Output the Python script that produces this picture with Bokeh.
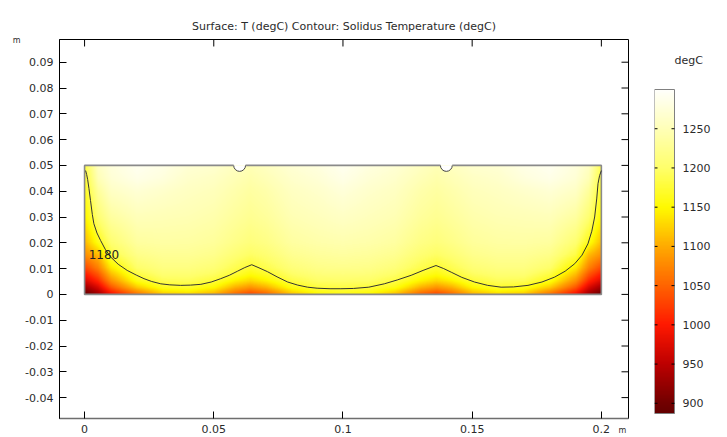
import numpy as np
from bokeh.plotting import figure
from bokeh.layouts import row
from bokeh.models import (LinearColorMapper, FixedTicker, LinearAxis, Label, Range1d)
from bokeh.embed import file_html
from bokeh.resources import INLINE
from bokeh.core.properties import value

# ---------------- data ----------------
title_text = "Surface: T (degC) Contour: Solidus Temperature (degC)"
unit_text = "m"
cbar_title = "degC"
x_ticks = [0, 0.05, 0.1, 0.15, 0.2]
x_tick_labels = ["0", "0.05", "0.1", "0.15", "0.2"]
y_ticks = [-0.04, -0.03, -0.02, -0.01, 0, 0.01, 0.02, 0.03, 0.04, 0.05,
           0.06, 0.07, 0.08, 0.09]
y_tick_labels = ["-0.04", "-0.03", "-0.02", "-0.01", "0", "0.01", "0.02",
                 "0.03", "0.04", "0.05", "0.06", "0.07", "0.08", "0.09"]
cbar_ticks = [900, 950, 1000, 1050, 1100, 1150, 1200, 1250]
cbar_tick_labels = ["900", "950", "1000", "1050", "1100", "1150", "1200", "1250"]
t_low, t_high = 887, 1300

domain_width = 0.2
domain_height = 0.05
notch_x = [0.06, 0.14]
notch_r = 0.0023

contour_level = "1180"
contour_x = [0.0004, 0.0008, 0.0012, 0.0017, 0.0023, 0.003, 0.0036, 0.0048,
             0.0062, 0.008, 0.0101, 0.013, 0.0165, 0.02, 0.023, 0.026, 0.0295,
             0.033, 0.0372, 0.041, 0.045, 0.049, 0.0527, 0.056, 0.0592, 0.062,
             0.0647, 0.0675, 0.0708, 0.0745, 0.0786, 0.0825, 0.0863, 0.09,
             0.095, 0.0992, 0.104, 0.11, 0.116, 0.121, 0.1264, 0.131, 0.136,
             0.139, 0.1419, 0.146, 0.1509, 0.156, 0.1612, 0.166, 0.1716, 0.177,
             0.1819, 0.186, 0.1897, 0.1925, 0.1948, 0.1963, 0.1974, 0.1982,
             0.1987, 0.1993, 0.2]
contour_y = [0.048, 0.0465, 0.0445, 0.041, 0.0364, 0.031, 0.0274, 0.0238,
             0.0209, 0.0175, 0.0145, 0.0117, 0.0093, 0.0075, 0.0061, 0.005,
             0.0041, 0.0037, 0.0035, 0.0036, 0.0039, 0.0048, 0.0061, 0.0074,
             0.009, 0.0104, 0.0115, 0.0103, 0.0088, 0.0068, 0.0048, 0.0036,
             0.0028, 0.0024, 0.0022, 0.0022, 0.0023, 0.0028, 0.0041, 0.0056,
             0.0074, 0.0093, 0.0112, 0.01, 0.0086, 0.0066, 0.0048, 0.0035,
             0.0028, 0.0029, 0.0035, 0.0048, 0.0067, 0.009, 0.0119, 0.0152,
             0.0196, 0.0245, 0.03, 0.037, 0.0429, 0.046, 0.048]

# temperature samples (degC) read from the surface, rows = grid_y, cols = grid_x
grid_x = [0, 0.005, 0.01, 0.02, 0.03, 0.04, 0.05, 0.058, 0.064, 0.07, 0.08,
          0.09, 0.1, 0.11, 0.12, 0.13, 0.136, 0.142, 0.15, 0.16, 0.17, 0.18,
          0.19, 0.195, 0.2]
grid_y = [0, 0.0025, 0.005, 0.0075, 0.01, 0.015, 0.02, 0.03, 0.04, 0.045, 0.05]
T_y000 = [890, 930, 990, 1060, 1120, 1130, 1105, 1055, 1030, 1050, 1115, 1150, 1160,
          1150, 1115, 1050, 1030, 1055, 1105, 1130, 1120, 1060, 990, 930, 890]
T_y0025 = [930, 970, 1040, 1120, 1165, 1172, 1150, 1105, 1085, 1105, 1160, 1179, 1183,
           1179, 1160, 1105, 1085, 1105, 1150, 1172, 1165, 1120, 1040, 970, 930]
T_y005 = [970, 1010, 1080, 1160, 1190, 1192, 1178, 1145, 1128, 1145, 1183, 1198, 1200,
          1198, 1183, 1145, 1128, 1145, 1178, 1192, 1190, 1160, 1080, 1010, 970]
T_y0075 = [1000, 1040, 1110, 1181, 1205, 1205, 1195, 1174, 1155, 1168, 1198, 1210, 1212,
           1210, 1198, 1168, 1155, 1174, 1195, 1205, 1205, 1181, 1110, 1040, 1000]
T_y010 = [1030, 1070, 1140, 1200, 1215, 1215, 1207, 1188, 1173, 1186, 1210, 1220, 1222,
          1220, 1210, 1186, 1173, 1188, 1207, 1215, 1215, 1200, 1140, 1070, 1030]
T_y015 = [1080, 1110, 1182, 1220, 1228, 1228, 1222, 1207, 1197, 1205, 1225, 1232, 1235,
          1232, 1225, 1205, 1197, 1207, 1222, 1228, 1228, 1220, 1182, 1110, 1080]
T_y020 = [1110, 1162, 1205, 1235, 1238, 1237, 1232, 1220, 1212, 1218, 1236, 1242, 1245,
          1242, 1236, 1218, 1212, 1220, 1232, 1237, 1238, 1235, 1205, 1162, 1110]
T_y030 = [1145, 1205, 1235, 1252, 1250, 1248, 1243, 1233, 1226, 1232, 1248, 1254, 1260,
          1254, 1248, 1232, 1226, 1233, 1243, 1248, 1250, 1252, 1235, 1205, 1145]
T_y040 = [1165, 1232, 1260, 1272, 1265, 1258, 1253, 1243, 1236, 1242, 1258, 1265, 1275,
          1265, 1258, 1242, 1236, 1243, 1253, 1258, 1265, 1272, 1260, 1232, 1165]
T_y045 = [1175, 1250, 1272, 1286, 1278, 1265, 1260, 1250, 1243, 1250, 1265, 1273, 1285,
          1273, 1265, 1250, 1243, 1250, 1260, 1265, 1278, 1286, 1272, 1250, 1175]
T_y050 = [1185, 1260, 1278, 1292, 1285, 1272, 1268, 1258, 1250, 1258, 1272, 1280, 1292,
          1280, 1272, 1258, 1250, 1258, 1268, 1272, 1285, 1292, 1278, 1260, 1185]
T_rows = [T_y000, T_y0025, T_y005, T_y0075, T_y010, T_y015, T_y020, T_y030,
          T_y040, T_y045, T_y050]

# colour table stops (value -> rgb), thermal light
cmap_v = [887, 900, 950, 1000, 1050, 1100, 1150, 1200, 1250, 1300]
cmap_r = [100, 115, 190, 255, 255, 255, 255, 255, 255, 255]
cmap_g = [0, 0, 0, 25, 100, 170, 250, 255, 255, 255]
cmap_b = [0, 0, 0, 0, 0, 0, 0, 105, 182, 250]

FONT = "DejaVu Sans"
TXT = "#2b2b2b"

# ---------------- layout (px) ----------------
X0, X1 = -0.0097, 0.2105
Y0, Y1 = -0.0481, 0.0988
FRAME_W, FRAME_H = 569, 379
BORDER_L, BORDER_T, BORDER_B, BORDER_R = 59, 39, 18, 16
TICK_PX = 7
px_per_unit = FRAME_W / (X1 - X0)
tick_len = TICK_PX / px_per_unit

# ---------------- palette ----------------
pv = np.linspace(t_low, t_high, 256)
palette = ["#%02x%02x%02x" % (int(round(r)), int(round(g)), int(round(b)))
           for r, g, b in zip(np.interp(pv, cmap_v, cmap_r),
                              np.interp(pv, cmap_v, cmap_g),
                              np.interp(pv, cmap_v, cmap_b))]
mapper = LinearColorMapper(palette=palette, low=t_low, high=t_high)

# ---------------- surface shading (bilinear, like the mesh rendering) -----
nx, ny = 520, 130
sx = np.linspace(0, domain_width, nx)
sy = np.linspace(0, domain_height, ny)
rows = np.array([np.interp(sx, grid_x, r) for r in T_rows])
surface = np.array([np.interp(sy, grid_y, rows[:, i]) for i in range(nx)]).T

# ---------------- main figure ----------------
p = figure(x_range=Range1d(X0, X1), y_range=Range1d(Y0, Y1),
           frame_width=FRAME_W, frame_height=FRAME_H,
           min_border_left=BORDER_L, min_border_top=BORDER_T,
           min_border_bottom=BORDER_B, min_border_right=BORDER_R,
           output_backend="svg", toolbar_location=None,
           background_fill_color="white", border_fill_color="white")
p.outline_line_color = "black"
p.outline_line_width = 1
p.xgrid.visible = False
p.ygrid.visible = False

p.title.text = title_text
p.title.align = "center"
p.title.text_font = FONT
p.title.text_font_size = "11px"
p.title.text_font_style = "normal"
p.title.text_color = TXT
p.title.standoff = 14

xa = p.xaxis[0]
ya = p.yaxis[0]
xa.ticker = FixedTicker(ticks=x_ticks)
ya.ticker = FixedTicker(ticks=y_ticks)
xa.major_label_overrides = {t: l for t, l in zip(x_ticks, x_tick_labels)}
ya.major_label_overrides = {t: l for t, l in zip(y_ticks, y_tick_labels)}
for ax in (xa, ya):
    ax.major_tick_in = TICK_PX
    ax.major_tick_out = 0
    ax.minor_tick_line_color = None
    ax.major_label_text_font = FONT
    ax.major_label_text_font_size = "11px"
    ax.major_label_text_color = TXT
    ax.axis_line_color = "black"
    ax.major_tick_line_color = "black"
xa.major_label_standoff = 6
ya.major_label_standoff = 6
xa.axis_line_color = "#6e6e6e"
xa.axis_line_width = 1.5

# unit "m" on the y axis (top-left)
unit_y = Y1 - 0.0003
p.add_layout(LinearAxis(ticker=FixedTicker(ticks=[unit_y]),
                        major_label_overrides={unit_y: unit_text},
                        major_tick_in=0, major_tick_out=0, axis_line_color=None,
                        major_tick_line_color=None, minor_tick_line_color=None,
                        major_label_standoff=2, major_label_text_font=FONT,
                        major_label_text_font_size="8px",
                        major_label_text_color=TXT), "left")

# unit "m" after the last x tick label (pulled up onto the tick-label row)
unit_x = X1 - 0.0024
p.add_layout(LinearAxis(ticker=FixedTicker(ticks=[unit_x]),
                        major_label_overrides={unit_x: unit_text},
                        major_tick_in=0, major_tick_out=0, axis_line_color=None,
                        major_tick_line_color=None, minor_tick_line_color=None,
                        major_label_standoff=-10, major_label_text_font=FONT,
                        major_label_text_font_size="8px",
                        major_label_text_color=TXT), "below")

# inward ticks on the top and right frame edges
p.segment(x0=x_ticks, y0=[Y1] * len(x_ticks), x1=x_ticks,
          y1=[Y1 - tick_len] * len(x_ticks), line_color="black", line_width=1)
p.segment(x0=[X1] * len(y_ticks), y0=y_ticks, x1=[X1 - tick_len] * len(y_ticks),
          y1=y_ticks, line_color="black", line_width=1)

# surface
p.image(image=[surface], x=0, y=0, dw=domain_width, dh=domain_height,
        color_mapper=mapper)

# notches
ny_top = [domain_height] * len(notch_x)
p.wedge(x=notch_x, y=ny_top, radius=notch_r, start_angle=np.pi,
        end_angle=2 * np.pi, fill_color="white", line_color=None)
p.arc(x=notch_x, y=ny_top, radius=notch_r, start_angle=np.pi,
      end_angle=2 * np.pi, line_color="#444444", line_width=1)

# domain border
outer_x = [notch_x[0] - notch_r, 0, 0, domain_width, domain_width, notch_x[1] + notch_r]
outer_y = [domain_height, domain_height, 0, 0, domain_height, domain_height]
mid_x = [notch_x[0] + notch_r, notch_x[1] - notch_r]
mid_y = [domain_height, domain_height]
p.multi_line(xs=[outer_x, mid_x], ys=[outer_y, mid_y], line_color="#8a8a8a",
             line_width=1.6)

# contour
p.line(contour_x, contour_y, line_color="#333333", line_width=1)
p.add_layout(Label(x=0.0016, y=0.0155, text=contour_level, text_font=FONT,
                   text_font_size="12px", text_color="#222222",
                   text_baseline="middle", text_align="left"))

# ---------------- colour bar figure ----------------
main_w = BORDER_L + FRAME_W + BORDER_R
BAR_LEFT_PX, BAR_W, BAR_TOP_PX, BAR_H = 655, 20, 89, 324
CB_FRAME_W = 66
deg_per_px = (t_high - t_low) / BAR_H
cb_y_hi = t_high + (BAR_TOP_PX - BORDER_T) * deg_per_px
cb_y_lo = t_low - (BORDER_T + FRAME_H - (BAR_TOP_PX + BAR_H)) * deg_per_px
cb = figure(x_range=Range1d(0, CB_FRAME_W / BAR_W), y_range=Range1d(cb_y_lo, cb_y_hi),
            frame_width=CB_FRAME_W, frame_height=FRAME_H,
            min_border_left=BAR_LEFT_PX - main_w - 1, min_border_top=BORDER_T,
            min_border_bottom=BORDER_B, min_border_right=0,
            output_backend="svg", toolbar_location=None,
            background_fill_color="white", border_fill_color="white")
cb.xaxis.visible = False
cb.yaxis.visible = False
cb.xgrid.visible = False
cb.ygrid.visible = False
cb.outline_line_color = None

gradient = np.linspace(t_low, t_high, 400).reshape(-1, 1)
cb.image(image=[gradient], x=0, y=t_low, dw=1, dh=t_high - t_low,
         color_mapper=mapper)
cb.quad(left=0, right=1, bottom=t_low, top=t_high, fill_color=None,
        line_color="#808080", line_width=1)
cb_tick = 3 / BAR_W
n = len(cbar_ticks)
cb.segment(x0=[0] * n, y0=cbar_ticks, x1=[cb_tick] * n, y1=cbar_ticks,
           line_color="black", line_width=1)
cb.segment(x0=[1 - cb_tick] * n, y0=cbar_ticks, x1=[1] * n, y1=cbar_ticks,
           line_color="black", line_width=1)
cb.text(x=[1 + 8 / BAR_W] * n, y=cbar_ticks, text=cbar_tick_labels,
        text_font=value(FONT), text_font_size="11px", text_color=TXT,
        text_baseline="middle", text_align="left")
cb.add_layout(Label(x=1, y=cb_y_hi - 21 * deg_per_px, text=cbar_title,
                    text_font=FONT, text_font_size="11px", text_color=TXT,
                    text_baseline="middle", text_align="left"))

layout = row(p, cb)
open("out.html", "w").write(file_html(layout, INLINE))
